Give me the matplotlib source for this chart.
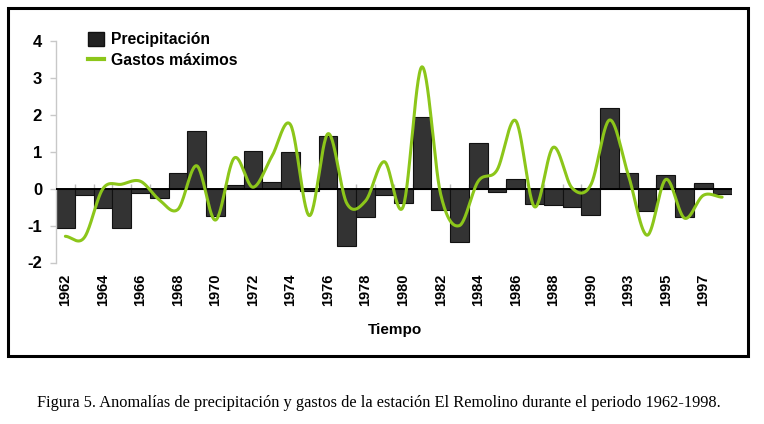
import numpy as np
import matplotlib
matplotlib.use("Agg")
import matplotlib.pyplot as plt
from matplotlib.patches import Rectangle
from matplotlib.lines import Line2D
from matplotlib.patches import Patch

plt.rcParams['font.family'] = ['Liberation Sans', 'DejaVu Sans']

# ---- data ----
years = [1962, 1963, 1964, 1965, 1966, 1967, 1968, 1969, 1970, 1971,
         1972, 1973, 1974, 1975, 1976, 1977, 1978, 1979, 1980, 1981,
         1982, 1983, 1984, 1985, 1986, 1987, 1988, 1989, 1990, 1991,
         1993, 1994, 1995, 1996, 1997, 1998]
precipitacion = [-1.07, -0.16, -0.52, -1.07, -0.13, -0.25, 0.43, 1.56, -0.74, 0.10,
                 1.03, 0.19, 1.00, -0.07, 1.44, -1.54, -0.76, -0.18, -0.38, 1.94,
                 -0.58, -1.44, 1.23, -0.08, 0.25, -0.42, -0.44, -0.51, -0.71, 2.18,
                 0.42, -0.61, 0.37, -0.78, 0.15, -0.14]
gastos = [-1.29, -1.33, 0.00, 0.12, 0.20, -0.30, -0.56, 0.62, -0.85, 0.83,
          0.04, 0.87, 1.73, -0.73, 1.49, -0.40, -0.33, 0.73, -0.49, 3.30,
          -0.15, -1.00, 0.20, 0.50, 1.84, -0.49, 1.12, 0.02, 0.10, 1.86,
          0.37, -1.26, 0.25, -0.80, -0.18, -0.23]
tick_years = ['1962', '1964', '1966', '1968', '1970', '1972', '1974', '1976', '1978',
              '1980', '1982', '1984', '1986', '1988', '1990', '1993', '1995', '1997']
caption = ("Figura 5. Anomalías de precipitación y gastos de la estación El Remolino "
           "durante el periodo 1962-1998.")

W, H = 764, 424
fig = plt.figure(figsize=(W / 100, H / 100), dpi=100)
fig.patch.set_facecolor('white')

def fx(px):
    return px / W

def fy(py):
    return 1 - py / H

ax_left, ax_right, ax_top, ax_bot = 56, 731.5, 41, 262.5
ax = fig.add_axes([fx(ax_left), fy(ax_bot), fx(ax_right - ax_left), (ax_bot - ax_top) / H])

x = np.arange(len(years))
ax.bar(x, precipitacion, width=1.0, color='#333333', edgecolor='#111111',
       linewidth=0.8, zorder=2)

# zero line and category ticks
ax.axhline(0, color='black', lw=1.4, zorder=3)
ax.vlines(x[:-1] + 0.5, 0, 0.13, color='#bbbbbb', lw=1.0, zorder=1)

# Excel-like smoothed line (Catmull-Rom through data points)
g = np.array(gastos, dtype=float)
xs, ys = [], []
n = len(g)
for i in range(n - 1):
    p0 = g[i - 1] if i > 0 else g[i]
    p1, p2 = g[i], g[i + 1]
    p3 = g[i + 2] if i + 2 < n else g[i + 1]
    t = np.linspace(0, 1, 30, endpoint=(i == n - 2))
    c1 = p1 + (p2 - p0) / 6
    c2 = p2 - (p3 - p1) / 6
    yy = (1 - t) ** 3 * p1 + 3 * (1 - t) ** 2 * t * c1 + 3 * (1 - t) * t ** 2 * c2 + t ** 3 * p2
    xs.append(x[i] + t)
    ys.append(yy)
xs = np.concatenate(xs)
ys = np.concatenate(ys)
green = '#8cc61a'
ax.plot(xs, ys, color=green, lw=2.2, zorder=4, solid_capstyle='round')

ax.set_xlim(-0.5, len(years) - 0.5)
ax.set_ylim(-2, 4)
for s in ['top', 'right', 'bottom']:
    ax.spines[s].set_visible(False)
ax.spines['left'].set_color('#c8c8c8')
ax.spines['left'].set_linewidth(1.0)

ax.set_yticks([-2, -1, 0, 1, 2, 3, 4])
ax.set_yticklabels(['-2', '-1', '0', '1', '2', '3', '4'])
ax.tick_params(axis='y', length=4, width=1.0, color='#c8c8c8', pad=6,
               labelsize=12)
for lab in ax.get_yticklabels():
    lab.set_fontweight('bold')

ax.set_xticks(x[::2])
ax.set_xticklabels(tick_years, rotation=90, fontweight='bold', fontsize=10.5)
ax.tick_params(axis='x', length=0, pad=8)

# legend
handles = [Patch(facecolor='#222222', edgecolor='#111111'),
           Line2D([0], [0], color=green, lw=3)]
leg = fig.legend(handles, ['Precipitación', 'Gastos máximos'], loc='upper left',
                 bbox_to_anchor=(fx(88), fy(32)), frameon=False,
                 prop={'weight': 'bold', 'size': 11.3}, handlelength=1.0,
                 handleheight=1.0, handletextpad=0.45, labelspacing=0.35,
                 borderpad=0, borderaxespad=0)

fig.text(fx(395), fy(330), 'Tiempo', ha='center', va='center',
         fontweight='bold', fontsize=11)

# outer frame
fig.patches.append(Rectangle((fx(8), fy(355.5)), fx(748 - 8), (355.5 - 8) / H,
                             transform=fig.transFigure, fill=False,
                             edgecolor='black', lw=2.2))

fig.text(fx(379), fy(403), caption, ha='center', va='center',
         family=['Liberation Serif', 'DejaVu Serif'], fontsize=11.8)

fig.savefig('out.png', dpi=100)
